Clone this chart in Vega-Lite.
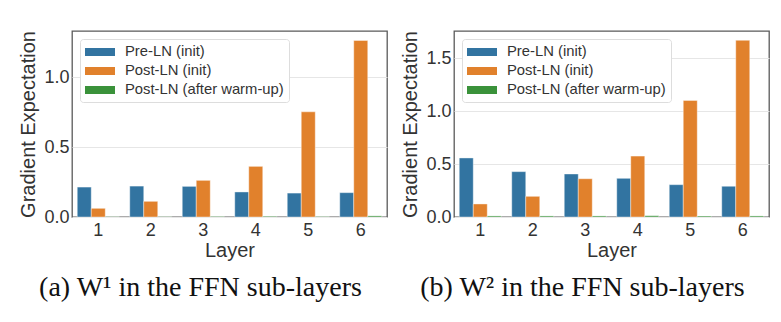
{
  "$schema": "https://vega.github.io/schema/vega-lite/v6.json",
  "padding": {"left": 18, "top": 29, "right": 0, "bottom": 0},
  "background": "white",
  "config": {
    "font": "Liberation Sans",
    "view": {"stroke": "#5a5a5a", "strokeWidth": 1.3},
    "axis": {
      "domain": false, "ticks": false, "gridColor": "#e6e6e6", "gridWidth": 1,
      "labelFont": "Liberation Sans", "labelFontSize": 18, "labelColor": "#333333",
      "titleFont": "Liberation Sans", "titleFontSize": 20, "titleFontWeight": "normal", "titleColor": "#333333"
    },
    "legend": {
      "orient": "top-left", "offset": 8, "title": null,
      "labelFont": "Liberation Sans", "labelFontSize": 14.8, "labelColor": "#333333",
      "symbolType": "M-1,-0.5H2.75V0.5H-1Z", "symbolSize": 256, "symbolStrokeWidth": 0, "symbolOpacity": 1,
      "labelOffset": 24, "rowPadding": 4, "padding": 5,
      "fillColor": "white", "strokeColor": "#dddddd", "cornerRadius": 3
    },
    "title": {"font": "Liberation Serif", "fontSize": 28, "fontWeight": "normal", "color": "#111111"}
  },
  "datasets": {
    "w1": [
      {"layer": 1, "series": "Pre-LN (init)", "value": 0.214},
      {"layer": 2, "series": "Pre-LN (init)", "value": 0.221},
      {"layer": 3, "series": "Pre-LN (init)", "value": 0.219},
      {"layer": 4, "series": "Pre-LN (init)", "value": 0.179},
      {"layer": 5, "series": "Pre-LN (init)", "value": 0.171},
      {"layer": 6, "series": "Pre-LN (init)", "value": 0.174},
      {"layer": 1, "series": "Post-LN (init)", "value": 0.062},
      {"layer": 2, "series": "Post-LN (init)", "value": 0.112},
      {"layer": 3, "series": "Post-LN (init)", "value": 0.262},
      {"layer": 4, "series": "Post-LN (init)", "value": 0.362},
      {"layer": 5, "series": "Post-LN (init)", "value": 0.752},
      {"layer": 6, "series": "Post-LN (init)", "value": 1.262},
      {"layer": 1, "series": "Post-LN (after warm-up)", "value": 0.002},
      {"layer": 2, "series": "Post-LN (after warm-up)", "value": 0.002},
      {"layer": 3, "series": "Post-LN (after warm-up)", "value": 0.004},
      {"layer": 4, "series": "Post-LN (after warm-up)", "value": 0.005},
      {"layer": 5, "series": "Post-LN (after warm-up)", "value": 0.003},
      {"layer": 6, "series": "Post-LN (after warm-up)", "value": 0.008}
    ],
    "w2": [
      {"layer": 1, "series": "Pre-LN (init)", "value": 0.557},
      {"layer": 2, "series": "Pre-LN (init)", "value": 0.428},
      {"layer": 3, "series": "Pre-LN (init)", "value": 0.406},
      {"layer": 4, "series": "Pre-LN (init)", "value": 0.365},
      {"layer": 5, "series": "Pre-LN (init)", "value": 0.305},
      {"layer": 6, "series": "Pre-LN (init)", "value": 0.29},
      {"layer": 1, "series": "Post-LN (init)", "value": 0.123},
      {"layer": 2, "series": "Post-LN (init)", "value": 0.195},
      {"layer": 3, "series": "Post-LN (init)", "value": 0.361},
      {"layer": 4, "series": "Post-LN (init)", "value": 0.575},
      {"layer": 5, "series": "Post-LN (init)", "value": 1.1},
      {"layer": 6, "series": "Post-LN (init)", "value": 1.667},
      {"layer": 1, "series": "Post-LN (after warm-up)", "value": 0.01},
      {"layer": 2, "series": "Post-LN (after warm-up)", "value": 0.01},
      {"layer": 3, "series": "Post-LN (after warm-up)", "value": 0.01},
      {"layer": 4, "series": "Post-LN (after warm-up)", "value": 0.012},
      {"layer": 5, "series": "Post-LN (after warm-up)", "value": 0.009},
      {"layer": 6, "series": "Post-LN (after warm-up)", "value": 0.01}
    ]
  },
  "resolve": {"scale": {"color": "independent", "y": "independent"}, "legend": {"color": "independent"}},
  "bounds": "flush",
  "spacing": 67,
  "hconcat": [
    {
      "width": 315, "height": 186,
      "data": {"name": "w1"},
      "title": {"text": "(a)  W¹ in the FFN sub-layers", "orient": "bottom", "anchor": "middle", "dx": -29, "offset": 14},
      "mark": {"type": "bar", "stroke": "white", "strokeWidth": 0.8, "strokeOpacity": 0.5},
      "encoding": {
        "x": {"field": "layer", "type": "ordinal", "title": "Layer",
              "scale": {"paddingInner": 0.2, "paddingOuter": 0.1},
              "axis": {"labelAngle": 0, "bandPosition": 0.5, "labelPadding": 4, "titlePadding": 1}},
        "xOffset": {"field": "series", "type": "nominal", "scale": {"domain": ["Pre-LN (init)", "Post-LN (init)", "Post-LN (after warm-up)"], "paddingInner": 0, "paddingOuter": 0}},
        "y": {"field": "value", "type": "quantitative", "title": "Gradient Expectation",
              "scale": {"domain": [0, 1.33], "nice": false},
              "axis": {"values": [0, 0.5, 1.0], "format": ".1f", "labelPadding": 3, "titlePadding": 5}},
        "color": {"field": "series", "type": "nominal",
                  "scale": {"domain": ["Pre-LN (init)", "Post-LN (init)", "Post-LN (after warm-up)"], "range": ["#3274a1", "#e1812c", "#3a923a"]}}
      }
    },
    {
      "width": 315, "height": 186,
      "data": {"name": "w2"},
      "title": {"text": "(b)  W² in the FFN sub-layers", "orient": "bottom", "anchor": "middle", "dx": -29, "offset": 14},
      "mark": {"type": "bar", "stroke": "white", "strokeWidth": 0.8, "strokeOpacity": 0.5},
      "encoding": {
        "x": {"field": "layer", "type": "ordinal", "title": "Layer",
              "scale": {"paddingInner": 0.2, "paddingOuter": 0.1},
              "axis": {"labelAngle": 0, "bandPosition": 0.5, "labelPadding": 4, "titlePadding": 1}},
        "xOffset": {"field": "series", "type": "nominal", "scale": {"domain": ["Pre-LN (init)", "Post-LN (init)", "Post-LN (after warm-up)"], "paddingInner": 0, "paddingOuter": 0}},
        "y": {"field": "value", "type": "quantitative", "title": "Gradient Expectation",
              "scale": {"domain": [0, 1.755], "nice": false},
              "axis": {"values": [0, 0.5, 1.0, 1.5], "format": ".1f", "labelPadding": 3, "titlePadding": 5}},
        "color": {"field": "series", "type": "nominal",
                  "scale": {"domain": ["Pre-LN (init)", "Post-LN (init)", "Post-LN (after warm-up)"], "range": ["#3274a1", "#e1812c", "#3a923a"]}}
      }
    }
  ]
}
